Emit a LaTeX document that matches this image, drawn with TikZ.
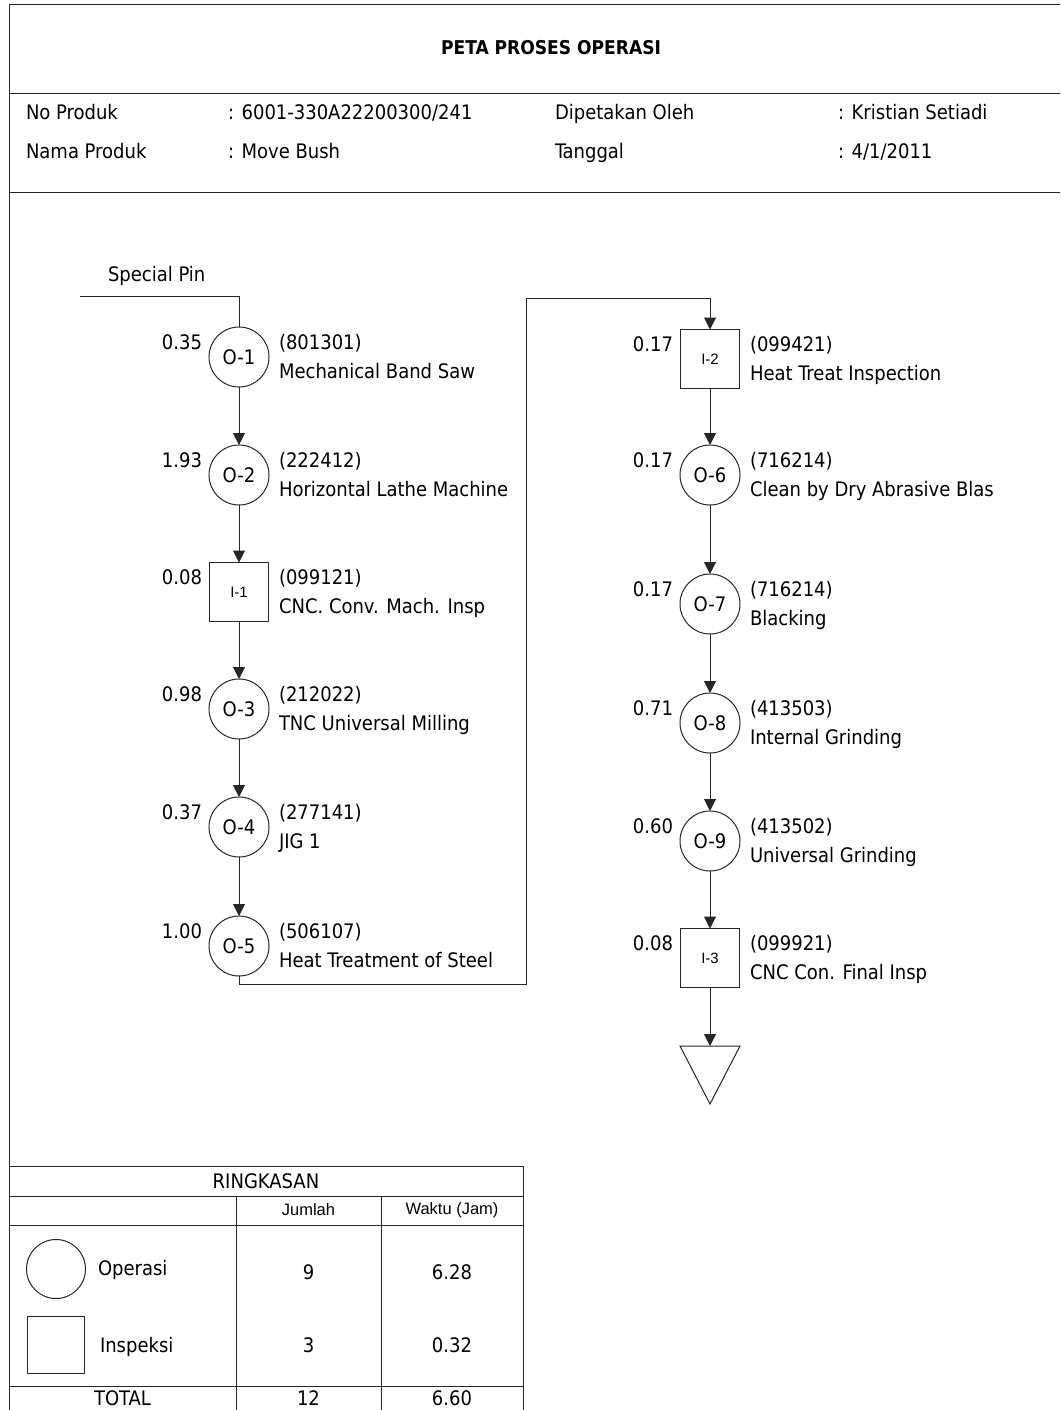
\documentclass[tikz,border=0pt]{standalone}
\usepackage{fontspec}
\setmainfont{DejaVu Sans Condensed}
\newfontfamily\arialf{Liberation Sans}
\usetikzlibrary{arrows.meta}
\newcommand\mkstep[8]{%
  \node[#4] (#1) at (#2,#3) {#5};
  \node[numl] (#1n) at (#2-37,#3-8) {#6};
  \node[txtl] (#1c) at (#2+40,#3-8) {#7};
  \node[txtl] (#1d) at (#2+40,#3+21) {#8};
}
\begin{document}
\begin{tikzpicture}[x=1pt,y=-1pt,
  every node/.style={inner sep=0pt, outer sep=0pt},
  font=\fontsize{20}{23}\selectfont,
  ln/.style={line width=1pt, draw=black!85},
  op/.style={circle, draw=black!85, line width=1pt, minimum size=60pt},
  insp/.style={rectangle, draw=black!85, line width=1pt, minimum size=59pt, font=\arialf\fontsize{15}{17}\selectfont},
  numl/.style={anchor=base east},
  txtl/.style={anchor=base west},
  small/.style={font=\arialf\fontsize{16.5}{19}\selectfont},
  flow/.style={ln, -{Triangle[length=12pt,width=12pt]}},
]
\useasboundingbox (0,0) rectangle (1060,1410);

% frame
\draw[ln] (9,1410) -- (9,5) -- (1060,5);
\draw[ln] (9,94) -- (1060,94);
\draw[ln] (9,192) -- (1060,192);

\node (title) at (551,48) {\fontsize{19}{21}\selectfont\bfseries PETA PROSES OPERASI};
\node[txtl] (h1) at (26,120) {No Produk};
\node[txtl] (h2) at (228,120) {: 6001-330A22200300/241};
\node[txtl] (h3) at (555,120) {Dipetakan Oleh};
\node[txtl] (h4) at (838,120) {: Kristian Setiadi};
\node[txtl] (h5) at (26,158) {Nama Produk};
\node[txtl] (h6) at (228,158) {: Move Bush};
\node[txtl] (h7) at (555,158) {Tanggal};
\node[txtl] (h8) at (838,158) {: 4/1/2011};

% left column
\mkstep{o1}{239}{357}{op}{O-1}{0.35}{(801301)}{Mechanical Band Saw}
\mkstep{o2}{239}{475}{op}{O-2}{1.93}{(222412)}{Horizontal Lathe Machine}
\mkstep{i1}{239}{592}{insp}{I-1}{0.08}{(099121)}{CNC. Conv. Mach. Insp}
\mkstep{o3}{239}{709}{op}{O-3}{0.98}{(212022)}{TNC Universal Milling}
\mkstep{o4}{239}{827}{op}{O-4}{0.37}{(277141)}{JIG 1}
\mkstep{o5}{239}{946}{op}{O-5}{1.00}{(506107)}{Heat Treatment of Steel}

% right column
\mkstep{i2}{710}{359}{insp}{I-2}{0.17}{(099421)}{Heat Treat Inspection}
\mkstep{o6}{710}{475}{op}{O-6}{0.17}{(716214)}{Clean by Dry Abrasive Blas}
\mkstep{o7}{710}{604}{op}{O-7}{0.17}{(716214)}{Blacking}
\mkstep{o8}{710}{723}{op}{O-8}{0.71}{(413503)}{Internal Grinding}
\mkstep{o9}{710}{841}{op}{O-9}{0.60}{(413502)}{Universal Grinding}
\mkstep{i3}{710}{958}{insp}{I-3}{0.08}{(099921)}{CNC Con. Final Insp}

% start material
\node[anchor=base west] (spname) at (108,281) {Special Pin};
\coordinate (spin) at (80,296);
\coordinate (spc) at (239,296);
\draw[ln] (spin) -- (spc) -- (o1.north);

% flow connectors
\draw[flow] (o1) -- (o2);
\draw[flow] (o2) -- (i1);
\draw[flow] (i1) -- (o3);
\draw[flow] (o3) -- (o4);
\draw[flow] (o4) -- (o5);
\coordinate (c1) at (526,984);
\coordinate (c2) at (526,298);
\draw[flow] (o5.south) |- (c1) -- (c2) -| (i2.north);
\draw[flow] (i2) -- (o6);
\draw[flow] (o6) -- (o7);
\draw[flow] (o7) -- (o8);
\draw[flow] (o8) -- (o9);
\draw[flow] (o9) -- (i3);

% storage triangle
\coordinate (fintop) at (710,1046);
\draw[ln] (680,1046) -- (740,1046) -- (710,1104) -- cycle;
\draw[flow] (i3.south) -- (fintop);

% summary table
\draw[ln] (9,1166) -- (523,1166) -- (523,1410);
\draw[ln] (9,1196) -- (523,1196);
\draw[ln] (9,1225) -- (523,1225);
\draw[ln] (9,1386) -- (523,1386);
\draw[ln] (236,1196) -- (236,1410);
\draw[ln] (381,1196) -- (381,1410);

\node (ring) at (266,1181) {RINGKASAN};
\node[small] (jml) at (308.5,1210) {Jumlah};
\node[small] (wkt) at (452,1210) {Waktu (Jam)};
\node[op, minimum size=59pt] (lgo) at (56,1269) {};
\node[insp, minimum size=57pt] (lgi) at (56,1345) {};
\node[anchor=base west] (opr) at (98,1275) {Operasi};
\node[anchor=base west] (ins) at (100,1352) {Inspeksi};
\node (n9) at (308.5,1272) {9};
\node (t628) at (452,1272) {6.28};
\node (n3) at (308.5,1345) {3};
\node (t032) at (452,1345) {0.32};
\node (tot) at (122.5,1398) {TOTAL};
\node (n12) at (308.5,1398) {12};
\node (t660) at (452,1398) {6.60};
\end{tikzpicture}
\end{document}
